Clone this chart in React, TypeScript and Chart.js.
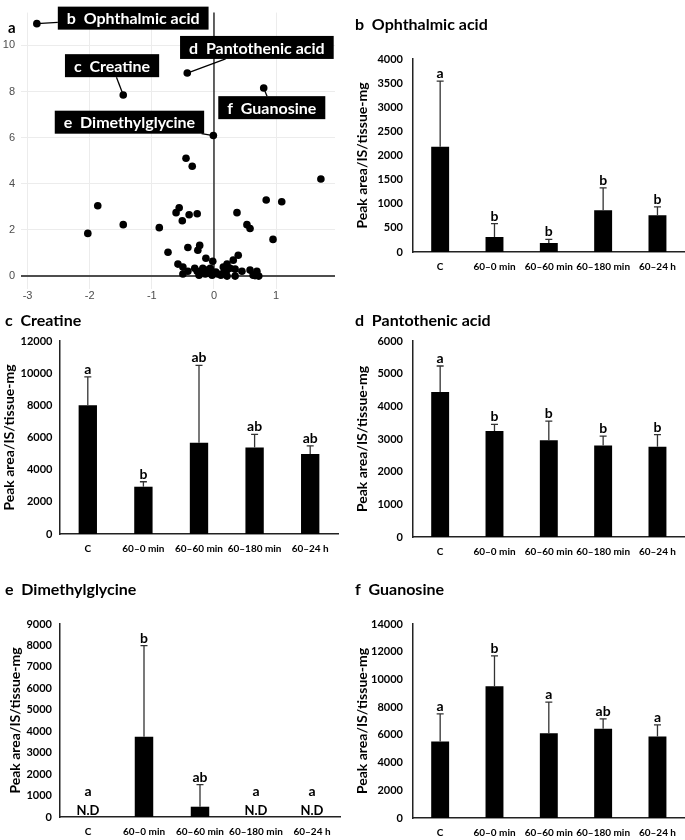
import React, { useEffect, useRef } from "react";
import { Chart, registerables } from "chart.js";

Chart.register(...registerables);

const FONT = "Lato, 'Open Sans', sans-serif";
const SANS = "'Liberation Sans', Arial, sans-serif";

// ---------- Panel a: volcano plot ----------
const volcanoX = [
  -2.85, -1.46, -0.43, -0.01, 0.8,
  -0.45, -0.35, 1.72, -1.87, 0.84, 1.09, -0.56, -0.61, -0.4, -0.27, -0.51, 0.37, 0.53, 0.58, -1.46, -0.88, -2.03, 0.95,
  -0.74, -0.42, -0.26, -0.23, -0.13, -0.02, 0.39, 0.31, 0.21, -0.58, -0.5, -0.31, -0.5, -0.42, -0.18, -0.11, -0.06,
  -0.19, -0.14, -0.08, -0.03, 0.03, 0.06, 0.15, 0.21, 0.26, 0.34, 0.21, 0.34, 0.45, 0.58, 0.69, 0.63, 0.72, 0.11,
  -0.24, -0.27, 0.15, 0.66,
];
const volcanoY = [
  10.94, 7.85, 8.8, 6.09, 8.15,
  5.11, 4.76, 4.21, 3.05, 3.3, 3.22, 2.96, 2.75, 2.66, 2.7, 2.4, 2.75, 2.23, 2.06, 2.23, 2.1, 1.85, 1.59,
  1.03, 1.24, 1.12, 1.33, 0.77, 0.64, 0.9, 0.69, 0.52, 0.52, 0.39, 0.34, 0.09, 0.21, 0.34, 0.26, 0.34,
  0.17, 0.09, 0.13, 0.04, 0.17, 0.09, 0.13, 0.26, 0.34, 0.3, 0.0, 0.0, 0.21, 0.26, 0.21, 0.04, 0.0, 0.04,
  0.04, 0.21, 0.39, 0.02,
];
const volcanoLabels = ["b  Ophthalmic acid", "c  Creatine", "d  Pantothenic acid", "e  Dimethylglycine", "f  Guanosine"];
const volcanoLabelPoint = [0, 1, 2, 3, 4];
const volcanoLabelX = [-1.3, -1.64, 0.69, -1.36, 0.93];
const volcanoLabelY = [11.18, 9.12, 9.91, 6.67, 7.3];
const volcanoXTicks = [-3, -2, -1, 0, 1];
const volcanoYTicks = [0, 2, 4, 6, 8, 10];

// ---------- Bar panels ----------
const categories = ["C", "60–0 min", "60–60 min", "60–180 min", "60–24 h"];

const ophthalmicMean = [2180, 312, 187, 866, 762];
const ophthalmicSD = [1360, 277, 76, 465, 174];
const ophthalmicLetters = ["a", "b", "b", "b", "b"];

const creatineMean = [8010, 2940, 5670, 5380, 4970];
const creatineSD = [1760, 310, 4820, 810, 510];
const creatineLetters = ["a", "b", "ab", "ab", "ab"];

const pantothenicMean = [4440, 3245, 2960, 2800, 2765];
const pantothenicSD = [795, 205, 590, 285, 370];
const pantothenicLetters = ["a", "b", "b", "b", "b"];

const dimethylglycineMean = [0, 3740, 480, 0, 0];
const dimethylglycineSD = [0, 4250, 1030, 0, 0];
const dimethylglycineLetters = ["a", "b", "ab", "a", "a"];
const dimethylglycineND = [true, false, false, true, true];

const guanosineMean = [5520, 9510, 6120, 6440, 5880];
const guanosineSD = [1995, 2185, 2235, 720, 840];
const guanosineLetters = ["a", "b", "a", "ab", "a"];

const Y_TITLE = "Peak area/IS/tissue-mg";

function VolcanoPanel() {
  const ref = useRef<HTMLCanvasElement>(null);
  const rect = { left: 0, top: 0, width: 345, height: 310 };
  const area = { left: 21, top: 10, right: 335, bottom: 289 };
  useEffect(() => {
    const canvas = ref.current!;
    const deco = {
      id: "volcanoDeco",
      beforeDatasetsDraw(chart: any) {
        const { ctx, chartArea, scales } = chart;
        const x0 = scales.x.getPixelForValue(0);
        const y0 = scales.y.getPixelForValue(0);
        ctx.save();
        ctx.strokeStyle = "#111";
        ctx.lineWidth = 1.3;
        ctx.beginPath();
        ctx.moveTo(x0, chartArea.top);
        ctx.lineTo(x0, y0);
        ctx.stroke();
        ctx.strokeStyle = "#4d4d4d";
        ctx.lineWidth = 2;
        ctx.beginPath();
        ctx.moveTo(chartArea.left, y0);
        ctx.lineTo(chartArea.right, y0);
        ctx.stroke();
        ctx.restore();
      },
      afterDatasetsDraw(chart: any) {
        const { ctx, scales } = chart;
        ctx.save();
        ctx.font = `bold 16px ${FONT}`;
        volcanoLabels.forEach((txt, i) => {
          const idx = volcanoLabelPoint[i];
          const px = scales.x.getPixelForValue(volcanoX[idx]);
          const py = scales.y.getPixelForValue(volcanoY[idx]);
          const cx = scales.x.getPixelForValue(volcanoLabelX[i]);
          const cy = scales.y.getPixelForValue(volcanoLabelY[i]);
          const w = ctx.measureText(txt).width + 18;
          const h = 23;
          const dx = cx - px;
          const dy = cy - py;
          const s = Math.min(
            dx === 0 ? Infinity : w / 2 / Math.abs(dx),
            dy === 0 ? Infinity : h / 2 / Math.abs(dy)
          );
          ctx.strokeStyle = "#000";
          ctx.lineWidth = 1.3;
          ctx.beginPath();
          ctx.moveTo(px, py);
          ctx.lineTo(cx - dx * s, cy - dy * s);
          ctx.stroke();
          ctx.fillStyle = "#000";
          ctx.fillRect(cx - w / 2, cy - h / 2, w, h);
          ctx.fillStyle = "#fff";
          ctx.textAlign = "center";
          ctx.textBaseline = "middle";
          ctx.fillText(txt, cx, cy + 1);
        });
        ctx.restore();
      },
      afterDraw(chart: any) {
        const ctx = chart.ctx;
        ctx.save();
        ctx.fillStyle = "#000";
        ctx.font = `bold 15px ${FONT}`;
        ctx.textAlign = "left";
        ctx.textBaseline = "alphabetic";
        ctx.fillText("a", 8, 33);
        ctx.restore();
      },
    };
    const chart = new Chart(canvas, {
      type: "scatter",
      data: {
        datasets: [
          {
            data: volcanoX.map((x, i) => ({ x, y: volcanoY[i] })),
            backgroundColor: "#000",
            borderWidth: 0,
            pointRadius: 3.8,
          },
        ],
      },
      options: {
        responsive: false,
        animation: false,
        devicePixelRatio: 1,
        layout: {
          padding: {
            left: 0,
            top: area.top - rect.top,
            right: rect.left + rect.width - area.right,
            bottom: 0,
          },
        },
        plugins: { legend: { display: false }, tooltip: { enabled: false } },
        scales: {
          x: {
            type: "linear",
            min: -3.105,
            max: 1.947,
            afterBuildTicks: (s: any) => {
              s.ticks = volcanoXTicks.map((v) => ({ value: v }));
            },
            grid: { color: "#ececec", lineWidth: 1, drawTicks: false },
            border: { display: false },
            ticks: {
              color: "#4d4d4d",
              font: { family: SANS, size: 11 },
              padding: 0,
              callback: (v: any) => String(v),
            },
            afterFit: (s: any) => {
              s.height = rect.top + rect.height - area.bottom;
            },
          },
          y: {
            type: "linear",
            min: -0.56,
            max: 11.42,
            afterBuildTicks: (s: any) => {
              s.ticks = volcanoYTicks.map((v) => ({ value: v }));
            },
            grid: { color: "#ececec", lineWidth: 1, drawTicks: false },
            border: { display: false },
            ticks: {
              color: "#4d4d4d",
              font: { family: SANS, size: 11 },
              padding: 6,
              callback: (v: any) => String(v),
            },
            afterFit: (s: any) => {
              s.width = area.left - rect.left;
            },
          },
        },
      },
      plugins: [deco],
    } as any);
    return () => chart.destroy();
  }, []);
  return (
    <canvas
      ref={ref}
      width={rect.width}
      height={rect.height}
      style={{ position: "absolute", left: rect.left, top: rect.top, display: "block" }}
    />
  );
}

type PanelProps = {
  rect: { left: number; top: number; width: number; height: number };
  area: { left: number; top: number; right: number; bottom: number };
  title: string;
  titlePos: { x: number; y: number };
  yTitleCenter: number;
  tickPad: number;
  yMax: number;
  yStep: number;
  means: number[];
  sds: number[];
  letters: string[];
  nd?: boolean[];
};

function BarPanel(p: PanelProps) {
  const ref = useRef<HTMLCanvasElement>(null);
  useEffect(() => {
    const canvas = ref.current!;
    const { rect, area } = p;
    const yW = area.left - rect.left;
    const xH = rect.top + rect.height - area.bottom;
    const titleSize = 14;
    const lh = titleSize * 1.2;
    const annot = {
      id: "barAnnot",
      afterDatasetsDraw(chart: any) {
        const ctx = chart.ctx;
        const ys = chart.scales.y;
        const meta = chart.getDatasetMeta(0);
        const y0 = ys.getPixelForValue(0);
        ctx.save();
        ctx.textAlign = "center";
        ctx.textBaseline = "alphabetic";
        meta.data.forEach((el: any, i: number) => {
          const x = el.x;
          if (p.nd && p.nd[i]) {
            ctx.fillStyle = "#000";
            ctx.font = `bold 13px ${FONT}`;
            ctx.fillText("N.D", x, y0 - 2);
            ctx.font = `bold 14px ${FONT}`;
            ctx.fillText(p.letters[i], x, y0 - 21);
            return;
          }
          const yv = ys.getPixelForValue(p.means[i]);
          const yt = ys.getPixelForValue(p.means[i] + p.sds[i]);
          ctx.strokeStyle = "#333";
          ctx.lineWidth = 1.3;
          ctx.beginPath();
          ctx.moveTo(x, yv);
          ctx.lineTo(x, yt);
          ctx.moveTo(x - 3.5, yt);
          ctx.lineTo(x + 3.5, yt);
          ctx.stroke();
          ctx.fillStyle = "#000";
          ctx.font = `bold 14px ${FONT}`;
          ctx.fillText(p.letters[i], x, yt - 3);
        });
        ctx.restore();
      },
      afterDraw(chart: any) {
        const ctx = chart.ctx;
        ctx.save();
        ctx.fillStyle = "#000";
        ctx.font = `bold 16px ${FONT}`;
        ctx.textAlign = "left";
        ctx.textBaseline = "alphabetic";
        ctx.fillText(p.title, p.titlePos.x - rect.left, p.titlePos.y - rect.top);
        ctx.restore();
      },
    };
    const chart = new Chart(canvas, {
      type: "bar",
      data: {
        labels: categories,
        datasets: [
          {
            data: p.means,
            backgroundColor: "#000",
            borderWidth: 0,
            barPercentage: 0.33,
            categoryPercentage: 1,
          },
        ],
      },
      options: {
        responsive: false,
        animation: false,
        devicePixelRatio: 1,
        layout: {
          padding: {
            left: 0,
            top: area.top - rect.top,
            right: rect.left + rect.width - area.right,
            bottom: 0,
          },
        },
        plugins: { legend: { display: false }, tooltip: { enabled: false } },
        scales: {
          x: {
            grid: { display: false, drawTicks: false },
            border: { display: true, color: "#222", width: 1.5 },
            ticks: {
              color: "#000",
              font: { family: FONT, size: 10, weight: "bold" },
              padding: 9,
              maxRotation: 0,
              autoSkip: false,
            },
            afterFit: (s: any) => {
              s.height = xH;
            },
          },
          y: {
            min: 0,
            max: p.yMax,
            grid: { display: false, drawTicks: false },
            border: { display: true, color: "#222", width: 1.5 },
            ticks: {
              stepSize: p.yStep,
              color: "#000",
              font: { family: FONT, size: 11, weight: "bold" },
              padding: p.tickPad,
              callback: (v: any) => String(v),
            },
            title: {
              display: true,
              text: Y_TITLE,
              color: "#000",
              font: { family: FONT, size: titleSize, weight: "bold" },
              padding: { top: Math.max(0, p.yTitleCenter - rect.left - lh / 2), bottom: 0 },
            },
            afterFit: (s: any) => {
              s.width = yW;
            },
          },
        },
      },
      plugins: [annot],
    } as any);
    return () => chart.destroy();
  }, []);
  return (
    <canvas
      ref={ref}
      width={p.rect.width}
      height={p.rect.height}
      style={{ position: "absolute", left: p.rect.left, top: p.rect.top, display: "block" }}
    />
  );
}

export default function App() {
  return (
    <div
      style={{
        position: "absolute",
        left: 0,
        top: 0,
        width: 685,
        height: 840,
        background: "#fff",
        overflow: "hidden",
      }}
    >
      <VolcanoPanel />
      <BarPanel
        rect={{ left: 345, top: 0, width: 340, height: 275 }}
        area={{ left: 413, top: 59, right: 685, bottom: 252 }}
        title="b  Ophthalmic acid"
        titlePos={{ x: 355, y: 30 }}
        yTitleCenter={362}
        tickPad={10}
        yMax={4000}
        yStep={500}
        means={ophthalmicMean}
        sds={ophthalmicSD}
        letters={ophthalmicLetters}
      />
      <BarPanel
        rect={{ left: 0, top: 310, width: 345, height: 250 }}
        area={{ left: 60, top: 341, right: 338, bottom: 534 }}
        title="c  Creatine"
        titlePos={{ x: 5, y: 326 }}
        yTitleCenter={9}
        tickPad={7.5}
        yMax={12000}
        yStep={2000}
        means={creatineMean}
        sds={creatineSD}
        letters={creatineLetters}
      />
      <BarPanel
        rect={{ left: 345, top: 275, width: 340, height: 285 }}
        area={{ left: 413, top: 341, right: 685, bottom: 537 }}
        title="d  Pantothenic acid"
        titlePos={{ x: 355, y: 326 }}
        yTitleCenter={362}
        tickPad={10}
        yMax={6000}
        yStep={1000}
        means={pantothenicMean}
        sds={pantothenicSD}
        letters={pantothenicLetters}
      />
      <BarPanel
        rect={{ left: 0, top: 545, width: 345, height: 295 }}
        area={{ left: 60, top: 624, right: 340, bottom: 817 }}
        title="e  Dimethylglycine"
        titlePos={{ x: 5, y: 595 }}
        yTitleCenter={15}
        tickPad={8}
        yMax={9000}
        yStep={1000}
        means={dimethylglycineMean}
        sds={dimethylglycineSD}
        letters={dimethylglycineLetters}
        nd={dimethylglycineND}
      />
      <BarPanel
        rect={{ left: 345, top: 545, width: 340, height: 295 }}
        area={{ left: 413, top: 624, right: 685, bottom: 818 }}
        title="f  Guanosine"
        titlePos={{ x: 355, y: 595 }}
        yTitleCenter={362}
        tickPad={10}
        yMax={14000}
        yStep={2000}
        means={guanosineMean}
        sds={guanosineSD}
        letters={guanosineLetters}
      />
    </div>
  );
}
